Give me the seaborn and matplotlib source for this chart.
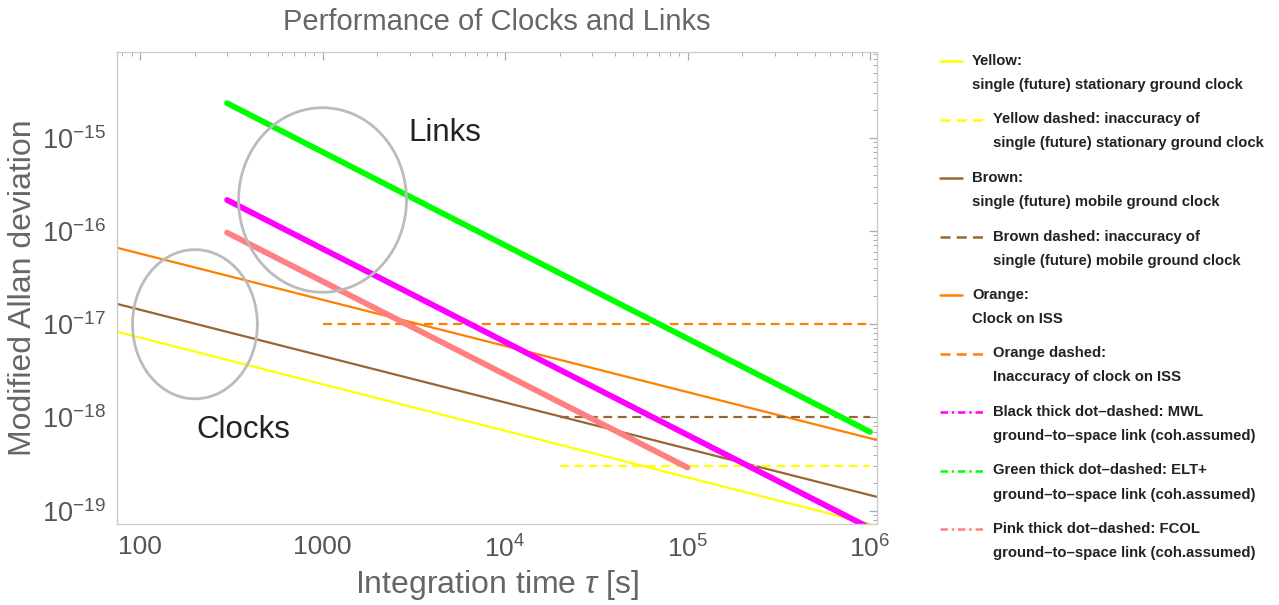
import numpy as np
import pandas as pd
import matplotlib
matplotlib.use("Agg")
import matplotlib.pyplot as plt
from matplotlib.lines import Line2D
from matplotlib.ticker import FixedLocator, FixedFormatter, LogLocator, NullFormatter
import seaborn as sns

# ---- data: Modified Allan deviation vs integration time (endpoints of each power law) ----
yellow_tau = [75, 1.0e6]
yellow_adev = [8.3e-18, 7.2e-20]
brown_tau = [75, 1.1e6]
brown_adev = [1.65e-17, 1.4e-19]
orange_tau = [75, 1.1e6]
orange_adev = [6.6e-17, 5.7e-19]

orange_acc_tau = [1.0e3, 1.0e6]
orange_acc = [1.0e-17, 1.0e-17]
brown_acc_tau = [2.0e4, 1.0e6]
brown_acc = [1.0e-18, 1.0e-18]
yellow_acc_tau = [2.0e4, 1.0e6]
yellow_acc = [3.0e-19, 3.0e-19]

mwl_tau = [300, 1.0e6]
mwl_adev = [2.15e-16, 6.5e-20]
elt_tau = [300, 1.0e6]
elt_adev = [2.35e-15, 7.0e-19]
fcol_tau = [300, 1.0e5]
fcol_adev = [9.6e-17, 2.9e-19]

# highlight ellipses: centre (tau, adev) and half-widths in decades
clocks_centre = (200, 1.0e-17)
clocks_halfwidth = (0.342, 0.80)
links_centre = (1000, 2.15e-16)
links_halfwidth = (0.46, 0.99)

legend_entries = [
    ("Yellow:", "single (future) stationary ground clock"),
    ("Yellow dashed: inaccuracy of", "single (future) stationary ground clock"),
    ("Brown:", "single (future) mobile ground clock"),
    ("Brown dashed: inaccuracy of", "single (future) mobile ground clock"),
    ("Orange:", "Clock on ISS"),
    ("Orange dashed:", "Inaccuracy of clock on ISS"),
    ("Black thick dot\u2013dashed: MWL", "ground\u2013to\u2013space link (coh.assumed)"),
    ("Green thick dot\u2013dashed: ELT+", "ground\u2013to\u2013space link (coh.assumed)"),
    ("Pink thick dot\u2013dashed: FCOL", "ground\u2013to\u2013space link (coh.assumed)"),
]

# ---- styling ----
YELLOW = "#FFFF00"
BROWN = "#996633"
ORANGE = "#FF8000"
MAGENTA = "#FF00FF"
GREEN = "#00FF00"
PINK = "#FF8080"
ELLIPSE = "#BBBBBB"
GREY_TXT = "#666666"

sns.set_theme(style="white")
plt.rcParams["font.family"] = ["Liberation Sans", "DejaVu Sans"]
plt.rcParams["mathtext.fontset"] = "custom"
plt.rcParams["mathtext.rm"] = "Liberation Sans"
plt.rcParams["mathtext.it"] = "Liberation Sans:italic"

W, H = 1279, 605
fig = plt.figure(figsize=(W / 100, H / 100), dpi=100)
ax = fig.add_axes([117 / W, 1 - 524 / H, 760 / W, 472 / H])
ax.set_xscale("log")
ax.set_yscale("log")

thin = 1.6
thick = 4.2

def seg(tau, val, color, lw, ls="-"):
    df = pd.DataFrame({"tau": tau, "adev": val})
    sns.lineplot(data=df, x="tau", y="adev", color=color, lw=lw, ls=ls, ax=ax,
                 estimator=None, sort=False)

seg(yellow_tau, yellow_adev, YELLOW, thin)
seg(brown_tau, brown_adev, BROWN, thin)
seg(orange_tau, orange_adev, ORANGE, thin)
seg(orange_acc_tau, orange_acc, ORANGE, thin, (0, (4, 2.5)))
seg(brown_acc_tau, brown_acc, BROWN, thin, (0, (4, 2.5)))
seg(yellow_acc_tau, yellow_acc, YELLOW, thin, (0, (4, 2.5)))
seg(elt_tau, elt_adev, GREEN, thick)
seg(mwl_tau, mwl_adev, MAGENTA, thick)
seg(fcol_tau, fcol_adev, PINK, thick)

# ellipses drawn in log space
t = np.linspace(0, 2 * np.pi, 200)
for (cx, cy), (hx, hy) in [(clocks_centre, clocks_halfwidth), (links_centre, links_halfwidth)]:
    ax.plot(10 ** (np.log10(cx) + hx * np.cos(t)), 10 ** (np.log10(cy) + hy * np.sin(t)),
            color=ELLIPSE, lw=2.0)

ax.text(4700, 1.12e-15, "Links", fontsize=22.5, color="#222222", ha="center", va="center")
ax.text(370, 7.3e-19, "Clocks", fontsize=22.5, color="#222222", ha="center", va="center")

ax.set_xlim(10 ** 1.874, 10 ** 6.038)
ax.set_ylim(10 ** -19.143, 10 ** -14.08)

# ticks
xmaj = [1e2, 1e3, 1e4, 1e5, 1e6]
xlab = ["100", "1000", r"$10^{4}$", r"$10^{5}$", r"$10^{6}$"]
ymaj = [1e-19, 1e-18, 1e-17, 1e-16, 1e-15]
ylab = [r"$10^{-19}$", r"$10^{-18}$", r"$10^{-17}$", r"$10^{-16}$", r"$10^{-15}$"]
ax.xaxis.set_major_locator(FixedLocator(xmaj))
ax.xaxis.set_major_formatter(FixedFormatter(xlab))
ax.yaxis.set_major_locator(FixedLocator(ymaj))
ax.yaxis.set_major_formatter(FixedFormatter(ylab))
ax.xaxis.set_minor_locator(LogLocator(base=10, subs=np.arange(2, 10), numticks=20))
ax.yaxis.set_minor_locator(LogLocator(base=10, subs=np.arange(2, 10), numticks=20))
ax.xaxis.set_minor_formatter(NullFormatter())
ax.yaxis.set_minor_formatter(NullFormatter())
ax.tick_params(which="both", direction="in", top=True, right=True, color="#AAAAAA",
               labelcolor="#555555")
ax.tick_params(axis="x", labelsize=19)
ax.tick_params(axis="y", labelsize=19.5)
ax.tick_params(which="major", length=6, width=0.9, pad=8)
ax.tick_params(which="minor", length=3, width=0.7)
for s in ax.spines.values():
    s.set_color("#CCCCCC")
    s.set_linewidth(1.0)

ax.set_xlabel(r"Integration time $\tau$ [s]", fontsize=23, color=GREY_TXT)
ax.set_ylabel("Modified Allan deviation", fontsize=23, color=GREY_TXT)
ax.xaxis.label.set_va("center")
ax.yaxis.label.set_va("center")
ax.xaxis.set_label_coords(0.5, (524 - 585) / 472)
ax.yaxis.set_label_coords((23 - 117) / 760, 0.5)
fig.text(497 / W, 1 - 22 / H, "Performance of Clocks and Links", fontsize=21,
         color=GREY_TXT, ha="center", va="center")

# legend
styles = [
    (YELLOW, "-", 22), (YELLOW, (0, (4, 2.5)), 43),
    (BROWN, "-", 22), (BROWN, (0, (4, 2.5)), 43),
    (ORANGE, "-", 22), (ORANGE, (0, (4, 2.5)), 43),
    (MAGENTA, (0, (3, 1.5, 1, 1.5)), 43), (GREEN, (0, (3, 1.5, 1, 1.5)), 43),
    (PINK, (0, (3, 1.5, 1, 1.5)), 43),
]
for i, ((l1, l2), (c, ls, hl)) in enumerate(zip(legend_entries, styles)):
    y1 = 61 + i * 58.5
    y2 = y1 + 24
    fig.add_artist(Line2D([940 / W, (940 + hl) / W], [1 - y1 / H, 1 - y1 / H],
                          color=c, lw=1.8, ls=ls, transform=fig.transFigure))
    tx = (940 + hl + 10) / W
    fig.text(tx, 1 - y1 / H, l1, fontsize=10.7, fontweight="bold", color="#222222", va="center")
    fig.text(tx, 1 - y2 / H, l2, fontsize=10.7, fontweight="bold", color="#222222", va="center")

fig.savefig("out.png", dpi=100)
